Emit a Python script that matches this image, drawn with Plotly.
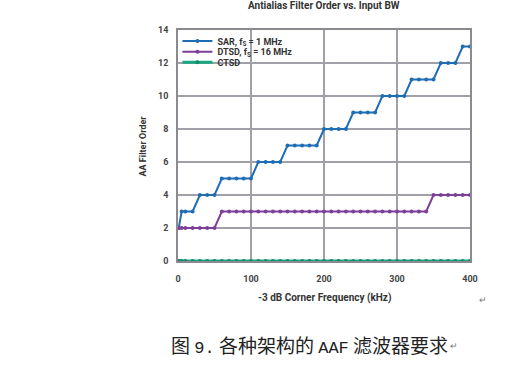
import plotly.graph_objects as go

freq_khz = [0, 1, 5, 10, 20, 30, 40, 50, 60, 70, 80, 90, 100, 110, 120, 130, 140,
            150, 160, 170, 180, 190, 200, 210, 220, 230, 240, 250, 260, 270, 280,
            290, 300, 310, 320, 330, 340, 350, 360, 370, 380, 390, 400]
sar_order = [2, 2, 3, 3, 3, 4, 4, 4, 5, 5, 5, 5, 5, 6, 6, 6, 6,
             7, 7, 7, 7, 7, 8, 8, 8, 8, 9, 9, 9, 9, 10,
             10, 10, 10, 11, 11, 11, 11, 12, 12, 12, 13, 13]
dtsd_order = [2, 2, 2, 2, 2, 2, 2, 2, 3, 3, 3, 3, 3, 3, 3, 3, 3,
              3, 3, 3, 3, 3, 3, 3, 3, 3, 3, 3, 3, 3, 3,
              3, 3, 3, 3, 3, 3, 4, 4, 4, 4, 4, 4]
ctsd_order = [0] * len(freq_khz)

series_names = ["SAR, f<sub>S</sub> = 1 MHz", "DTSD, f<sub>S</sub> = 16 MHz", "CTSD"]
series_colors = ["#1f6db5", "#7d3f98", "#1aa883"]
marker_colors = ["#1f6db5", "#7d3f98", "#128a6a"]
x_ticks = [0, 100, 200, 300, 400]
y_ticks = [0, 2, 4, 6, 8, 10, 12, 14]

legend_ids = ["legend", "legend2", "legend3"]
legend_y = [0.952, 0.906, 0.86]

fig = go.Figure()
for name, vals, col, mcol, w, lg in zip(series_names, [sar_order, dtsd_order, ctsd_order],
                                        series_colors, marker_colors, [2, 2, 3], legend_ids):
    fig.add_trace(go.Scatter(
        x=freq_khz, y=vals, name=name, mode="lines+markers", legend=lg,
        line=dict(color=col, width=w), marker=dict(color=mcol, size=4),
        cliponaxis=False))

font_family = "Roboto, Arial, sans-serif"
legend_common = dict(x=-0.002, xanchor="left", yanchor="middle",
                     bgcolor="rgba(255,255,255,0)",
                     font=dict(size=9, color="#333", weight="bold"),
                     itemwidth=30)
mono = '<span style="font-family:Liberation Mono;font-size:17px">'
caption = "图 " + mono + "9.</span> 各种架构的 " + mono + "AAF</span> 滤波器要求"

fig.update_layout(
    width=530, height=369,
    margin=dict(l=178, r=60, t=30, b=108),
    paper_bgcolor="white", plot_bgcolor="white",
    font=dict(family=font_family, size=9, color="#333"),
    showlegend=True,
    legend=dict(y=legend_y[0], **legend_common),
    legend2=dict(y=legend_y[1], **legend_common),
    legend3=dict(y=legend_y[2], **legend_common),
    xaxis=dict(range=[0, 400], tickvals=x_ticks, showgrid=True, gridcolor="#a0a0a8",
               gridwidth=1.5, showline=True, linecolor="#8a8a90", linewidth=1.5,
               mirror=True, zeroline=False, ticks="", ticklabelstandoff=8,
               tickfont=dict(size=9, color="#444", weight="bold")),
    yaxis=dict(range=[0, 14], tickvals=y_ticks, showgrid=True, gridcolor="#a0a0a8",
               gridwidth=1.5, showline=True, linecolor="#8a8a90", linewidth=1.5,
               mirror=True, zeroline=False, ticks="", ticklabelstandoff=6,
               tickfont=dict(size=9, color="#444", weight="bold")),
    annotations=[
        dict(text="<b>Antialias Filter Order vs. Input BW</b>", xref="paper", yref="paper",
             x=0.5, y=1.105, xanchor="center", yanchor="middle", showarrow=False,
             font=dict(size=10, color="#333")),
        dict(text="<b>-3 dB Corner Frequency (kHz)</b>", xref="paper", yref="paper",
             x=0.5, y=-0.16, xanchor="center", yanchor="middle", showarrow=False,
             font=dict(size=10, color="#333")),
        dict(text="<b>AA Filter Order</b>", xref="paper", yref="paper",
             x=-0.12, y=0.5, xanchor="center", yanchor="middle", showarrow=False,
             textangle=-90, font=dict(size=9, color="#333")),
        dict(text=caption, xref="paper", yref="paper",
             x=0.45, y=-0.36, xanchor="center", yanchor="middle", showarrow=False,
             font=dict(size=19, color="#222", family="Noto Sans CJK SC")),
        dict(text="↵", xref="paper", yref="paper",
             x=1.045, y=-0.17, xanchor="center", yanchor="middle", showarrow=False,
             font=dict(size=9, color="#777")),
        dict(text="↵", xref="paper", yref="paper",
             x=0.945, y=-0.37, xanchor="center", yanchor="middle", showarrow=False,
             font=dict(size=9, color="#777")),
    ],
)
fig.write_html("out.html", config={"displayModeBar": False},
               post_script="document.body.style.margin='0';document.body.style.overflow='hidden';")
